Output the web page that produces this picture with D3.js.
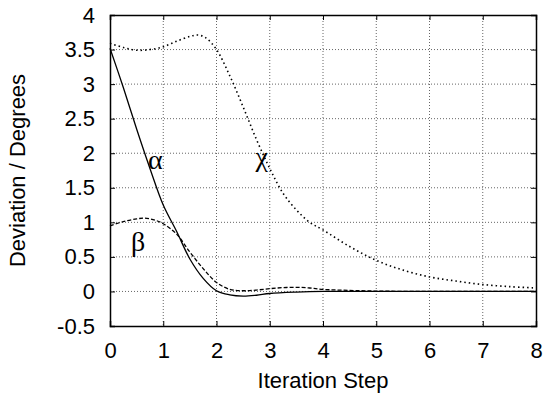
<!DOCTYPE html>
<html>
<head>
<meta charset="utf-8">
<script src="https://cdn.jsdelivr.net/npm/d3@7"></script>
<style>
  body { margin: 0; background: #fff; }
</style>
</head>
<body>
<div class="chart"></div>
<script>
var margin = { top: 15, right: 8, bottom: 68, left: 110 };
var width = 544 - margin.left - margin.right;
var height = 394 - margin.top - margin.bottom;

var sans = '"Liberation Sans", Arial, sans-serif';
var serif = '"Liberation Serif", "DejaVu Serif", serif';

// data
var alphaX = [0, 0.25, 0.5, 0.75, 1, 1.25, 1.5, 1.75, 2, 2.25, 2.5, 2.75, 3, 3.5, 4, 5, 6, 7, 8];
var alphaY = [3.52, 2.95, 2.35, 1.78, 1.25, 0.87, 0.47, 0.19, 0.01, -0.05, -0.068, -0.055, -0.03, -0.01, 0, 0, 0, 0, 0];

var betaX = [0, 0.25, 0.5, 0.65, 0.85, 1, 1.25, 1.5, 1.75, 2, 2.25, 2.5, 2.75, 3, 3.25, 3.5, 3.75, 4, 4.5, 5, 6, 7, 8];
var betaY = [0.95, 1.01, 1.05, 1.06, 1.03, 0.98, 0.83, 0.57, 0.33, 0.13, 0.03, 0.01, 0.02, 0.04, 0.055, 0.06, 0.05, 0.03, 0.015, 0.005, 0, 0, 0];

var chiX = [0, 0.25, 0.5, 0.75, 1, 1.25, 1.5, 1.65, 1.8, 2, 2.25, 2.5, 2.75, 3, 3.25, 3.5, 3.75, 4, 4.5, 5, 5.5, 6, 6.5, 7, 7.5, 8];
var chiY = [3.59, 3.53, 3.49, 3.5, 3.54, 3.62, 3.69, 3.71, 3.67, 3.5, 3.12, 2.67, 2.2, 1.78, 1.42, 1.18, 1.0, 0.89, 0.65, 0.45, 0.31, 0.21, 0.15, 0.1, 0.07, 0.05];

var xTicks = [0, 1, 2, 3, 4, 5, 6, 7, 8];
var yTicks = [-0.5, 0, 0.5, 1, 1.5, 2, 2.5, 3, 3.5, 4];

var labelNames = ['α', 'β', 'χ'];
var labelX = [0.85, 0.53, 2.85];
var labelY = [1.9, 0.7, 1.93];

var svg = d3.select('.chart')
  .append('svg')
    .attr('width', width + margin.left + margin.right)
    .attr('height', height + margin.top + margin.bottom)
  .append('g')
    .attr('transform', `translate(${margin.left}, ${margin.top})`);

var xScale = d3.scaleLinear().domain([0, 8]).range([0, width]);
var yScale = d3.scaleLinear().domain([-0.5, 4]).range([height, 0]);

// grid
svg.append('g')
  .selectAll('line')
  .data(xTicks.slice(1, -1))
  .enter()
  .append('line')
    .attr('x1', d => xScale(d)).attr('x2', d => xScale(d))
    .attr('y1', 0).attr('y2', height)
    .attr('stroke', '#666')
    .attr('stroke-width', 1)
    .attr('stroke-dasharray', '1,2');

svg.append('g')
  .selectAll('line')
  .data(yTicks.slice(1, -1))
  .enter()
  .append('line')
    .attr('x1', 0).attr('x2', width)
    .attr('y1', d => yScale(d)).attr('y2', d => yScale(d))
    .attr('stroke', '#666')
    .attr('stroke-width', 1)
    .attr('stroke-dasharray', '1,2');

// axes, ticks pointing inward (gnuplot style)
var xAxis = d3.axisBottom(xScale).tickValues(xTicks).tickSize(-5).tickPadding(16).tickFormat(d3.format('d'));
var yAxis = d3.axisLeft(yScale).tickValues(yTicks).tickSize(-5).tickPadding(15).tickFormat(d => d);

svg.append('g')
    .attr('transform', `translate(0, ${height})`)
  .call(xAxis);
svg.append('g').call(yAxis);
svg.append('g')
  .call(d3.axisTop(xScale).tickValues(xTicks).tickSize(-5).tickFormat(''));
svg.append('g')
    .attr('transform', `translate(${width}, 0)`)
  .call(d3.axisRight(yScale).tickValues(yTicks).tickSize(-5).tickFormat(''));

svg.selectAll('.domain').attr('stroke', '#000').attr('stroke-width', 1.5);
svg.selectAll('.tick text')
  .attr('font-size', 22)
  .attr('fill', '#000')
  .attr('font-family', sans);

// curves
var line = d3.line()
  .x(d => xScale(d[0]))
  .y(d => yScale(d[1]))
  .curve(d3.curveCatmullRom.alpha(0.5));

svg.append('path')
  .datum(d3.zip(chiX, chiY))
  .attr('d', line)
  .attr('fill', 'none')
  .attr('stroke', '#000')
  .attr('stroke-width', 1.6)
  .attr('stroke-dasharray', '1.5,3');

svg.append('path')
  .datum(d3.zip(betaX, betaY))
  .attr('d', line)
  .attr('fill', 'none')
  .attr('stroke', '#000')
  .attr('stroke-width', 1.3)
  .attr('stroke-dasharray', '4,2');

svg.append('path')
  .datum(d3.zip(alphaX, alphaY))
  .attr('d', line)
  .attr('fill', 'none')
  .attr('stroke', '#000')
  .attr('stroke-width', 1.3);

// curve labels
svg.selectAll('.curve-label')
  .data(labelNames)
  .enter()
  .append('text')
    .attr('class', 'curve-label')
    .attr('x', (d, i) => xScale(labelX[i]))
    .attr('y', (d, i) => yScale(labelY[i]))
    .attr('dy', '0.3em')
    .attr('text-anchor', 'middle')
    .attr('font-family', serif)
    .attr('font-size', 28)
    .text(d => d);

// axis titles
svg.append('text')
  .attr('x', width / 2)
  .attr('y', height + 62)
  .attr('text-anchor', 'middle')
  .attr('font-family', sans)
  .attr('font-size', 22)
  .text('Iteration Step');

svg.append('text')
  .attr('transform', `translate(${-85}, ${height / 2}) rotate(-90)`)
  .attr('text-anchor', 'middle')
  .attr('font-family', sans)
  .attr('font-size', 22)
  .text('Deviation / Degrees');
</script>
</body>
</html>
